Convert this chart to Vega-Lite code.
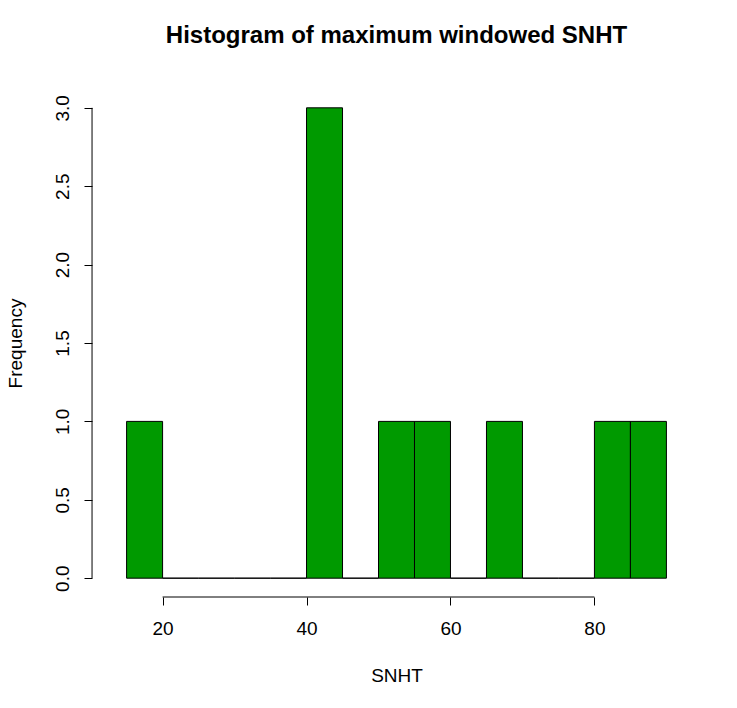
{
  "$schema": "https://vega.github.io/schema/vega-lite/v6.json",
  "autosize": "none",
  "width": 583,
  "height": 508,
  "padding": {"left": 105, "top": 89, "right": 49, "bottom": 111},
  "background": "white",
  "config": {
    "font": "Liberation Sans",
    "view": {"stroke": null}
  },
  "title": {
    "text": "Histogram of maximum windowed SNHT",
    "fontSize": 24,
    "fontWeight": "bold",
    "color": "black",
    "offset": 41,
    "anchor": "middle"
  },
  "layer": [
    {
      "data": {
        "values": [
          {"bin_start": 15, "bin_end": 20, "count": 1},
          {"bin_start": 20, "bin_end": 25, "count": 0},
          {"bin_start": 25, "bin_end": 30, "count": 0},
          {"bin_start": 30, "bin_end": 35, "count": 0},
          {"bin_start": 35, "bin_end": 40, "count": 0},
          {"bin_start": 40, "bin_end": 45, "count": 3},
          {"bin_start": 45, "bin_end": 50, "count": 0},
          {"bin_start": 50, "bin_end": 55, "count": 1},
          {"bin_start": 55, "bin_end": 60, "count": 1},
          {"bin_start": 60, "bin_end": 65, "count": 0},
          {"bin_start": 65, "bin_end": 70, "count": 1},
          {"bin_start": 70, "bin_end": 75, "count": 0},
          {"bin_start": 75, "bin_end": 80, "count": 0},
          {"bin_start": 80, "bin_end": 85, "count": 1},
          {"bin_start": 85, "bin_end": 90, "count": 1}
        ]
      },
      "mark": {"type": "rect", "fill": "#009a00", "stroke": "black", "strokeWidth": 1},
      "encoding": {
        "x": {
          "field": "bin_start", "type": "quantitative",
          "scale": {"domain": [12, 93], "nice": false, "zero": false},
          "axis": {
            "values": [20, 40, 60, 80], "domain": false, "grid": false,
            "tickSize": 8, "tickColor": "black", "labelFontSize": 19, "labelColor": "black",
            "labelPadding": 14, "title": "SNHT", "titleFontSize": 19, "titleFontWeight": "normal",
            "titleColor": "black", "titlePadding": 28
          }
        },
        "x2": {"field": "bin_end"},
        "y": {
          "field": "count", "type": "quantitative",
          "scale": {"domain": [-0.12, 3.12], "nice": false, "zero": false},
          "axis": {
            "values": [0, 0.5, 1, 1.5, 2, 2.5, 3], "format": ".1f", "domain": false, "grid": false,
            "offset": 13, "tickSize": 8, "tickColor": "black", "labelFontSize": 19, "labelColor": "black",
            "labelAngle": -90, "labelAlign": "center", "labelBaseline": "bottom", "labelPadding": 12,
            "title": "Frequency", "titleFontSize": 19, "titleFontWeight": "normal",
            "titleColor": "black", "titlePadding": 28
          }
        },
        "y2": {"datum": 0}
      }
    },
    {
      "data": {"values": [{"x": 20, "x2": 80, "y": -0.12}]},
      "mark": {"type": "rule", "color": "black"},
      "encoding": {
        "x": {"field": "x", "type": "quantitative"},
        "x2": {"field": "x2"},
        "y": {"field": "y", "type": "quantitative"}
      }
    },
    {
      "data": {"values": [{"x": 10.2, "y": 0, "y2": 3}]},
      "mark": {"type": "rule", "color": "black", "clip": false},
      "encoding": {
        "x": {"field": "x", "type": "quantitative"},
        "y": {"field": "y", "type": "quantitative"},
        "y2": {"field": "y2"}
      }
    }
  ]
}
